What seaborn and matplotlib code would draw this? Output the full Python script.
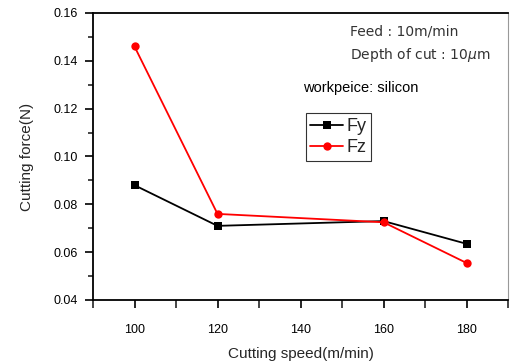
import matplotlib
matplotlib.use("Agg")
import matplotlib.pyplot as plt
import seaborn as sns
import pandas as pd
from matplotlib.ticker import MultipleLocator

speeds = [100, 120, 160, 180]
fy = [0.088, 0.071, 0.073, 0.0635]
fz = [0.146, 0.076, 0.0725, 0.0555]
series_names = ["Fy", "Fz"]
x_ticks = [100, 120, 140, 160, 180]
y_ticks = [0.04, 0.06, 0.08, 0.10, 0.12, 0.14, 0.16]

df = pd.DataFrame({
    "speed": speeds * 2,
    "force": fy + fz,
    "series": [series_names[0]] * len(speeds) + [series_names[1]] * len(speeds),
})

sns.set_style("ticks")
plt.rcParams["font.family"] = ["Liberation Sans", "DejaVu Sans"]

fig = plt.figure(figsize=(5.12, 3.62), dpi=100)
ax = fig.add_axes([93 / 512, 1 - 300 / 362, (508 - 93) / 512, (300 - 13) / 362])

sns.lineplot(data=df, x="speed", y="force", hue="series", style="series",
             markers={"Fy": "s", "Fz": "o"}, dashes=False,
             palette={"Fy": "black", "Fz": "red"}, markersize=6,
             markeredgewidth=0, linewidth=1.3, ax=ax)

ax.set_xlim(90, 190)
ax.set_ylim(0.04, 0.16)
ax.set_xticks(x_ticks)
ax.set_xticklabels([str(t) for t in x_ticks])
ax.xaxis.set_minor_locator(MultipleLocator(10))
ax.set_yticks(y_ticks)
ax.set_yticklabels([f"{t:.2f}" for t in y_ticks])
ax.yaxis.set_minor_locator(MultipleLocator(0.01))
ax.tick_params(axis="both", which="major", direction="out", length=6, width=1.2,
               labelsize=9, colors="black")
ax.tick_params(axis="x", which="major", pad=11)
ax.tick_params(axis="y", which="major", pad=5)
ax.tick_params(axis="x", which="minor", direction="out", length=6, width=1.2)
ax.tick_params(axis="y", which="minor", direction="out", length=3.5, width=1.2)

for s in ["left", "bottom", "top"]:
    ax.spines[s].set_color("black")
    ax.spines[s].set_linewidth(1.3)
ax.spines["right"].set_color("#999999")
ax.spines["right"].set_linewidth(0.8)

ax.set_xlabel("Cutting speed(m/min)", fontsize=11, labelpad=8)
ax.set_ylabel("Cutting force(N)", fontsize=11, labelpad=14)

ax.text(0.62, 0.935, "Feed : 10m/min", transform=ax.transAxes, fontsize=10,
        color="#333333", family=["DejaVu Sans"], va="center")
ax.text(0.62, 0.855, "Depth of cut : 10$\\mu$m", transform=ax.transAxes, fontsize=10,
        color="#333333", family=["DejaVu Sans"], va="center")
ax.text(0.505, 0.74, "workpeice: silicon", transform=ax.transAxes, fontsize=10.5,
        color="black", va="center")

leg = ax.legend(loc="upper left", bbox_to_anchor=(0.513, 0.65), frameon=True,
                fancybox=False, edgecolor="black", fontsize=13, handlelength=1.8,
                handletextpad=0.2, borderpad=0.25, labelspacing=0.25, borderaxespad=0)
leg.get_frame().set_linewidth(0.8)
leg.set_title(None)

fig.savefig("out.png", dpi=100)
